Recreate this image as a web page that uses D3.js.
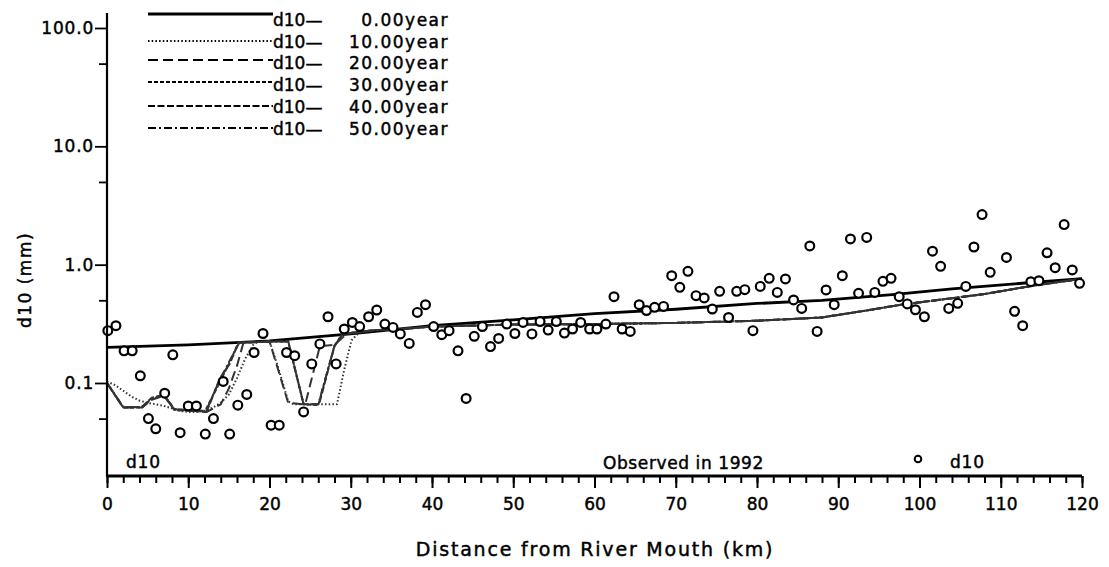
<!DOCTYPE html>
<html>
<head>
<meta charset="utf-8">
<script src="https://cdn.jsdelivr.net/npm/d3@7"></script>
<style>
  html, body { margin: 0; padding: 0; background: #fff; }
  svg { display: block; font-family: "DejaVu Sans", sans-serif; }
  svg text { fill: #000; stroke: #000; stroke-width: 0.45px; }
</style>
</head>
<body>
<svg id="chart" width="1109" height="567"></svg>
<script>
// ---------------- DATA ----------------
const yearLabels = ["0.00year", "10.00year", "20.00year", "30.00year", "40.00year", "50.00year"];
const xTicksMajor = [0, 10, 20, 30, 40, 50, 60, 70, 80, 90, 100, 110, 120];
const yTicksMajor = [0.1, 1, 10, 100];
const yTicksMinor = [0.05, 0.5, 5, 50];

// observed d10 in 1992: [km, mm]
const observedKm = [0.1,1.1,2.1,3.1,4.1,5.1,6.0,7.1,8.1,9.0,10.0,11.0,12.1,13.1,14.3,15.1,16.1,17.2,18.1,19.2,
  20.2,21.2,22.1,23.1,24.2,25.2,26.2,27.2,28.2,29.2,30.2,31.1,32.2,33.2,34.2,35.2,36.1,37.2,38.2,39.2,
  40.2,41.2,42.1,43.2,44.2,45.2,46.2,47.2,48.2,49.2,50.2,51.2,52.3,53.3,54.3,55.3,56.3,57.3,58.3,59.4,
  60.3,61.4,62.4,63.4,64.4,65.5,66.4,67.4,68.5,69.5,70.5,71.5,72.5,73.5,74.5,75.4,76.5,77.5,78.5,79.5,
  80.4,81.5,82.5,83.5,84.5,85.5,86.5,87.4,88.5,89.5,90.5,91.5,92.5,93.5,94.5,95.5,96.5,97.5,98.5,99.5,
  100.6,101.6,102.6,103.6,104.7,105.7,106.7,107.7,108.7,110.7,111.7,112.7,113.7,114.7,115.7,116.7,117.8,118.8,119.7];
const observedD10 = [0.277,0.305,0.187,0.187,0.115,0.05,0.041,0.082,0.173,0.038,0.064,0.064,0.037,0.05,0.103,0.037,0.065,0.08,0.181,0.262,
  0.044,0.044,0.181,0.17,0.057,0.145,0.214,0.363,0.145,0.286,0.325,0.30,0.363,0.414,0.315,0.295,0.26,0.216,0.395,0.459,
  0.30,0.256,0.277,0.187,0.074,0.248,0.30,0.203,0.238,0.315,0.262,0.325,0.26,0.331,0.28,0.331,0.264,0.286,0.325,0.286,
  0.286,0.315,0.536,0.286,0.273,0.459,0.41,0.436,0.444,0.807,0.643,0.878,0.547,0.523,0.422,0.595,0.358,0.595,0.615,0.277,
  0.655,0.766,0.583,0.757,0.503,0.427,1.44,0.273,0.611,0.459,0.807,1.65,0.572,1.70,0.583,0.723,0.766,0.536,0.466,0.416,
  0.363,1.30,0.968,0.427,0.471,0.655,1.41,2.65,0.861,1.15,0.403,0.305,0.718,0.732,1.26,0.943,2.18,0.902,0.695];

// computed d10 profiles: [km, mm]
const d10Year0 = [[0,0.2],[10,0.21],[20,0.227],[30,0.26],[40,0.305],[50,0.342],[60,0.385],[70,0.42],[80,0.47],
  [88,0.5],[97,0.56],[104,0.625],[113,0.70],[120,0.76]];
const d10Tail = [[33,0.28],[36,0.285],[40,0.30],[50,0.312],[60,0.315],[70,0.322],[80,0.336],[88,0.358],[93,0.405],
  [98,0.462],[103,0.51],[108,0.565],[114,0.665],[120,0.76]];
const d10Year10 = [[0,0.103],[1,0.096],[2,0.086],[3,0.077],[4,0.071],[5,0.068],[6,0.066],[7,0.064],[8,0.061],[9,0.058],
  [10,0.057],[11,0.057],[12,0.058],[13,0.062],[14,0.068],[15,0.08],[16,0.11],[17,0.16],[18,0.21],[18.5,0.222],[20,0.225],
  [21,0.14],[22.3,0.07],[23,0.066],[28.3,0.066],[29.2,0.13],[30.1,0.23],[31,0.265]];
const d10Year20 = [[0,0.1],[2,0.062],[4.3,0.062],[5.5,0.072],[7,0.078],[8.3,0.06],[12.3,0.057],[14,0.066],[15,0.09],
  [16,0.14],[16.8,0.22],[20,0.225],[22.3,0.068],[24.4,0.066],[26.2,0.205],[28,0.21],[29.5,0.26],[31,0.27]];
const d10Year30 = [[0,0.1],[2,0.062],[4.3,0.062],[5.5,0.074],[7,0.08],[8.3,0.06],[12,0.057],[13.5,0.09],[15,0.145],
  [16.2,0.22],[22.3,0.225],[24.2,0.066],[26,0.065],[28,0.207],[29,0.26],[31,0.27]];
const d10Year40 = [[0,0.1],[2,0.062],[4.3,0.063],[5.5,0.075],[7,0.079],[8.3,0.059],[12.3,0.058],[13.9,0.11],[15.1,0.145],
  [16.2,0.22],[22.3,0.226],[24.2,0.066],[26.1,0.066],[28,0.205],[29,0.26],[31,0.27]];
const d10Year50 = [[0,0.1],[2,0.063],[4.3,0.062],[5.5,0.073],[7,0.079],[8.3,0.06],[12.2,0.058],[13.7,0.1],[15,0.15],
  [16.3,0.22],[22.3,0.224],[24.2,0.066],[26,0.066],[28,0.206],[29,0.26],[31,0.27]];

// ---------------- CHART ----------------
const svg = d3.select("#chart");
const x = d3.scaleLinear().domain([0, 120]).range([107, 1082]);
const y = d3.scaleLog().domain([0.1, 100]).range([383, 28]);
const axisY0 = 476, axisTop = 13;

const profiles = [
  { data: d10Year0, dash: null, width: 2.8 },
  { data: d10Year10.concat(d10Tail), dash: "1.5,2.2", width: 2 },
  { data: d10Year20.concat(d10Tail), dash: "10,5", width: 2 },
  { data: d10Year30.concat(d10Tail), dash: "4,2", width: 2 },
  { data: d10Year40.concat(d10Tail), dash: "7,2.5", width: 2 },
  { data: d10Year50.concat(d10Tail), dash: "8,3,2,3", width: 2 }
];

const line = d3.line().x(d => x(d[0])).y(d => y(d[1]));
svg.append("g").selectAll("path").data(profiles).join("path")
  .attr("d", d => line(d.data))
  .attr("fill", "none")
  .attr("stroke", (d, i) => i === 0 ? "#000" : "#333")
  .attr("stroke-width", d => d.width)
  .attr("stroke-dasharray", d => d.dash)
  .attr("stroke-linejoin", "round");

// observed points
svg.append("g").selectAll("circle").data(observedKm.map((k, i) => [k, observedD10[i]])).join("circle")
  .attr("cx", d => x(d[0])).attr("cy", d => y(d[1])).attr("r", 4.4)
  .attr("fill", "#fff").attr("stroke", "#000").attr("stroke-width", 2.2);

// Y axis
svg.append("line").attr("x1", x(0)).attr("x2", x(0)).attr("y1", axisTop).attr("y2", axisY0 + 1)
  .attr("stroke", "#000").attr("stroke-width", 2.2);
const gyMinor = svg.append("g").attr("transform", `translate(${x(0)},0)`)
  .call(d3.axisLeft(y).tickValues(yTicksMinor).tickSize(8).tickFormat(""));
const gyMajor = svg.append("g").attr("transform", `translate(${x(0)},0)`)
  .call(d3.axisLeft(y).tickValues(yTicksMajor).tickSize(12).tickPadding(1).tickFormat(d3.format(".1f")));
[gyMinor, gyMajor].forEach(g => {
  g.select(".domain").remove();
  g.selectAll("line").attr("stroke", "#000").attr("stroke-width", 1.8);
});
gyMajor.selectAll("text").attr("font-size", 17).attr("font-family", "DejaVu Sans")
  .attr("fill", "#000").attr("letter-spacing", "0.8");

// X axis
svg.append("line").attr("x1", x(0)).attr("x2", x(120)).attr("y1", axisY0).attr("y2", axisY0)
  .attr("stroke", "#000").attr("stroke-width", 3);
const gxMinor = svg.append("g").attr("transform", `translate(0,${axisY0})`)
  .call(d3.axisBottom(x).tickValues(d3.range(0, 121, 2)).tickSize(7).tickFormat(""));
const gxMajor = svg.append("g").attr("transform", `translate(0,${axisY0})`)
  .call(d3.axisBottom(x).tickValues(xTicksMajor).tickSize(12).tickPadding(10).tickFormat(d3.format("d")));
[gxMinor, gxMajor].forEach(g => {
  g.select(".domain").remove();
  g.selectAll("line").attr("stroke", "#000").attr("stroke-width", 2);
});
gxMajor.selectAll("text").attr("font-size", 17).attr("font-family", "DejaVu Sans").attr("fill", "#000");

// axis titles
svg.append("text").attr("x", 595).attr("y", 556).attr("text-anchor", "middle")
  .attr("font-size", 19).attr("letter-spacing", "1.8").text("Distance from River Mouth (km)");
svg.append("text").attr("transform", "translate(31,280) rotate(-90)").attr("text-anchor", "middle")
  .attr("font-size", 17).attr("letter-spacing", "1.5").text("d10 (mm)");

// legend (model runs)
const legendLineY = [14, 41, 60, 82, 106, 128];
const legendTextY = [26, 48, 69, 91, 113, 135];
const lg = svg.append("g");
profiles.forEach((p, i) => {
  lg.append("line").attr("x1", 148).attr("x2", 273).attr("y1", legendLineY[i]).attr("y2", legendLineY[i])
    .attr("stroke", "#000").attr("stroke-width", i === 0 ? 2.8 : 2).attr("stroke-dasharray", p.dash);
  lg.append("text").attr("x", 273).attr("y", legendTextY[i]).attr("font-size", 17).text("d10\u2014");
  lg.append("text").attr("x", 449).attr("y", legendTextY[i]).attr("text-anchor", "end")
    .attr("font-size", 17).attr("letter-spacing", "1.5").text(yearLabels[i]);
});

// bottom annotations
svg.append("text").attr("x", 126).attr("y", 468).attr("font-size", 17).attr("letter-spacing", "0.8").text("d10");
svg.append("text").attr("x", 603).attr("y", 469).attr("font-size", 17).attr("letter-spacing", "0.6").text("Observed in 1992");
svg.append("circle").attr("cx", 918).attr("cy", 459).attr("r", 3.3)
  .attr("fill", "#fff").attr("stroke", "#000").attr("stroke-width", 2);
svg.append("text").attr("x", 950).attr("y", 468).attr("font-size", 17).attr("letter-spacing", "0.8").text("d10");
</script>
</body>
</html>
